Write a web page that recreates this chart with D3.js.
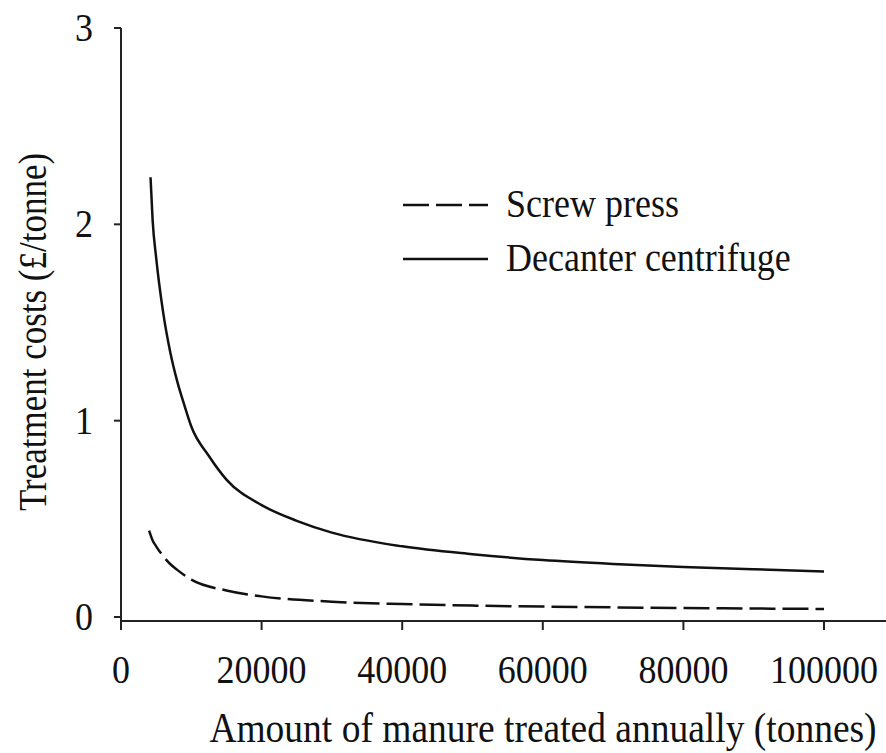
<!DOCTYPE html>
<html>
<head>
<meta charset="utf-8">
<script src="https://cdn.jsdelivr.net/npm/d3@7"></script>
<style>
  body { margin: 0; background: #fff; }
  svg { display: block; }
  text { font-family: "Liberation Serif", "Times New Roman", serif; fill: #111; }
</style>
</head>
<body>
<svg width="886" height="753"></svg>
<script>
// values
const xTicks = [0, 20000, 40000, 60000, 80000, 100000];
const yTicks = [0, 1, 2, 3];

const screwX = [4000, 4500, 5000, 6000, 7000, 8000, 10000, 15000, 20000, 30000, 40000, 50000, 60000, 70000, 80000, 90000, 100000];
const screwY = [0.44, 0.39, 0.36, 0.31, 0.27, 0.24, 0.19, 0.135, 0.105, 0.078, 0.066, 0.058, 0.053, 0.049, 0.046, 0.043, 0.041];

const decX = [4200, 4500, 5000, 6000, 7000, 8000, 9000, 10000, 12500, 15000, 20000, 25000, 30000, 40000, 50000, 60000, 70000, 80000, 90000, 100000];
const decY = [2.24, 2.02, 1.83, 1.55, 1.35, 1.20, 1.08, 0.97, 0.82, 0.70, 0.57, 0.49, 0.43, 0.36, 0.32, 0.29, 0.27, 0.255, 0.243, 0.232];

const seriesNames = ["Screw press", "Decanter centrifuge"];

const svg = d3.select("svg");
const x = d3.scaleLinear().domain([0, 100000]).range([121, 824]);
const y = d3.scaleLinear().domain([0, 3]).range([617, 28]);
const axisY = y(0) + 4; // x axis sits slightly below the zero tick

const ink = "#222";
const stretch = 1.12; // lettering in the scan is a little taller than wide

function label(g, tx, ty, str, size, anchor, rot) {
  return g.append("text")
    .attr("transform", `translate(${tx},${ty})` + (rot ? ` rotate(${rot})` : "") + ` scale(1,${stretch})`)
    .attr("text-anchor", anchor || "start")
    .attr("font-size", size)
    .text(str);
}

// y axis
svg.append("line")
  .attr("x1", x(0)).attr("x2", x(0))
  .attr("y1", y(3)).attr("y2", axisY)
  .attr("stroke", ink).attr("stroke-width", 2);
const gy = svg.append("g");
gy.selectAll("line").data(yTicks).enter().append("line")
  .attr("x1", x(0) - 7).attr("x2", x(0))
  .attr("y1", d => y(d)).attr("y2", d => y(d))
  .attr("stroke", ink).attr("stroke-width", 2);
yTicks.forEach(d => label(gy, 93, y(d) + 13, d, 36, "end"));

// x axis
svg.append("line")
  .attr("x1", x(0)).attr("x2", 886)
  .attr("y1", axisY).attr("y2", axisY)
  .attr("stroke", ink).attr("stroke-width", 2);
const gx = svg.append("g");
gx.selectAll("line").data(xTicks).enter().append("line")
  .attr("x1", d => x(d)).attr("x2", d => x(d))
  .attr("y1", axisY).attr("y2", axisY + 9)
  .attr("stroke", ink).attr("stroke-width", 2);
xTicks.forEach(d => label(gx, x(d), 683, d, 36, "middle"));

// axis titles
label(svg, 543, 742, "Amount of manure treated annually (tonnes)", 37.5, "middle");
label(svg, 46, 332, "Treatment costs (£/tonne)", 35, "middle", -90);

// curves
const line = d3.line()
  .curve(d3.curveMonotoneX)
  .x(d => x(d[0]))
  .y(d => y(d[1]));

svg.append("path")
  .datum(d3.zip(screwX, screwY))
  .attr("d", line)
  .attr("fill", "none")
  .attr("stroke", "#111")
  .attr("stroke-width", 2.5)
  .attr("stroke-dasharray", "26,7");

svg.append("path")
  .datum(d3.zip(decX, decY))
  .attr("d", line)
  .attr("fill", "none")
  .attr("stroke", "#111")
  .attr("stroke-width", 2.5);

// legend
const legend = svg.append("g");
const legRows = [
  { name: seriesNames[0], dash: "26,7", ly: 205 },
  { name: seriesNames[1], dash: null, ly: 259 }
];
legRows.forEach(r => {
  legend.append("line")
    .attr("x1", 403).attr("x2", 488)
    .attr("y1", r.ly).attr("y2", r.ly)
    .attr("stroke", "#111").attr("stroke-width", 2.5)
    .attr("stroke-dasharray", r.dash);
  label(legend, 506, r.ly + 12, r.name, 36);
});
</script>
</body>
</html>
